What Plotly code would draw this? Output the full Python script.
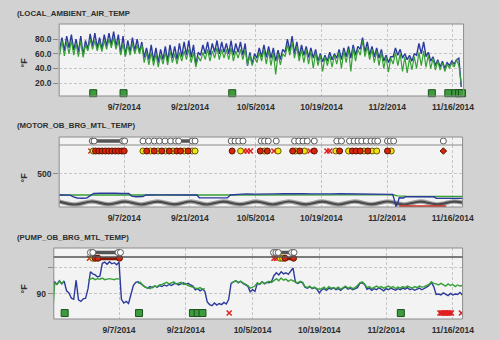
import pandas as pd
import plotly.graph_objects as go

START = pd.Timestamp("2014-08-24")


def when(days):
    return [START + pd.Timedelta(days=float(d)) for d in days]


def spans(pairs):
    xs = []
    for a, b in pairs:
        xs += [START + pd.Timedelta(days=a), START + pd.Timedelta(days=b), None]
    return xs


# ---------------- LOCAL_AMBIENT_AIR_TEMP (12 h samples: morning / evening) ----------------
ambient_blue = [
    66, 82, 64, 84, 68, 86, 65, 80, 62, 84, 58, 78, 66, 87,
    70, 88, 68, 82, 66, 86, 70, 88, 72, 90, 70, 86, 60, 84,
    58, 78, 62, 82, 64, 80, 62, 76, 55, 68, 52, 72, 50, 68,
    48, 66, 52, 70, 50, 72, 54, 70, 52, 74, 56, 76, 58, 78,
    55, 72, 45, 62, 58, 72, 60, 76, 58, 74, 62, 78, 60, 76,
    62, 74, 60, 78, 58, 74, 62, 76, 58, 74, 44, 62, 46, 60,
    54, 68, 56, 72, 55, 70, 54, 68, 50, 65, 52, 66, 62, 80,
    64, 84, 60, 76, 56, 72, 58, 70, 55, 68, 54, 66, 50, 60,
    49, 58, 50, 62, 52, 60, 54, 66, 52, 68, 56, 70, 54, 72,
    58, 70, 66, 82, 62, 76, 58, 70, 56, 68, 54, 66, 50, 58,
    48, 56, 56, 68, 58, 66, 54, 60, 52, 58, 50, 60, 58, 74,
    60, 76, 56, 62, 50, 56, 44, 52, 42, 50, 40, 48, 44, 50,
    46, 52, 54, 15,
]
ambient_green = [
    58, 78, 57, 76, 60, 78, 58, 74, 56, 78, 55, 72, 64, 80,
    66, 78, 64, 76, 63, 78, 66, 80, 68, 82, 66, 78, 58, 74,
    56, 72, 58, 74, 60, 72, 60, 72, 48, 62, 45, 62, 44, 60,
    42, 58, 46, 62, 45, 64, 48, 60, 46, 62, 50, 64, 52, 66,
    48, 62, 42, 56, 50, 62, 52, 66, 50, 64, 54, 68, 52, 66,
    54, 66, 52, 68, 50, 64, 54, 66, 52, 66, 45, 58, 44, 56,
    48, 62, 50, 66, 46, 64, 44, 62, 32, 60, 45, 60, 56, 72,
    58, 76, 54, 70, 50, 66, 48, 66, 46, 64, 40, 62, 44, 58,
    36, 56, 44, 58, 42, 58, 46, 62, 40, 64, 48, 66, 36, 68,
    50, 66, 58, 78, 56, 70, 52, 66, 48, 64, 44, 62, 40, 56,
    35, 54, 46, 62, 44, 60, 36, 56, 34, 54, 38, 56, 40, 62,
    44, 64, 42, 58, 40, 54, 38, 50, 38, 48, 36, 46, 40, 48,
    42, 52, 44, 20,
]
ambient_times = pd.date_range("2014-08-24 06:00", periods=len(ambient_blue), freq="12h")
ambient_event_days = [7.4, 13.85, 37.0, 79.5, 83.0, 84.5, 85.3, 85.9]
ambient_event_level = 6.5

# ---------------- MOTOR_OB_BRG_MTL_TEMP ----------------
motor_blue_days = [0, 2.5, 3.2, 4, 5, 6, 6.8, 7.5, 9, 10.5, 12, 13.5, 15, 15.6, 16.5, 18,
                   18.6, 21, 24, 27, 29.5, 30, 32, 34, 36, 36.6, 38, 40, 42, 44, 46, 48,
                   50, 52, 54, 56, 58, 60, 62, 64, 66, 68, 70, 71.2, 71.6, 71.9, 72.3,
                   72.6, 73.5, 74, 76, 78, 80, 80.5, 82, 84, 86.2]
motor_blue = [150, 148, 120, 100, 95, 98, 140, 175, 178, 172, 178, 175, 176, 130, 122, 125,
              150, 152, 148, 153, 150, 105, 100, 98, 102, 150, 160, 168, 165, 172, 168, 170,
              165, 172, 168, 174, 168, 172, 170, 175, 168, 170, 166, 160, 60, -48, 20,
              105, 100, 122, 120, 124, 120, 95, 92, 96, 94]
motor_green_days = [0, 5, 10, 15, 20, 25, 30, 35, 40, 45, 50, 55, 60, 65, 70, 71.5,
                    72.2, 74, 78, 82, 86.2]
motor_green = [150, 152, 151, 150, 151, 150, 150, 151, 153, 152, 152, 153, 153, 152, 152, 150,
               135, 128, 126, 124, 124]
motor_wave_days = [0.2, 3.6, 7.1, 10.6, 14.2, 17.6, 21.1, 24.7, 28.2, 31.6, 35.1, 38.7,
                   42.2, 45.6, 49.1, 52.7, 56.2, 59.6, 63.1, 66.7, 70.2, 73.6, 77.1, 80.7,
                   84.2, 86.3]
motor_wave = [40, -8, 42, -6, 40, -8, 41, -7, 42, -8, 40, -6, 41, -8, 42, -7, 40, -8,
              41, -6, 42, -8, 40, -7, 41, 20]
motor_alarm_span = [(72.6, 82.6)]
motor_event_days = ambient_event_days
motor_event_level = -68
motor_row_level = 883
motor_red_days = [7.9, 8.6, 9.3, 10.0, 10.7, 11.4, 12.1, 12.8, 13.5, 14.0, 18.8, 20.4, 22.0,
                  23.6, 25.2, 26.0, 27.6, 37.0, 43.0, 44.5, 49.9, 51.4, 54.5, 59.9, 62.6,
                  63.4, 64.3, 65.9, 70.1]
motor_yellow_days = [7.4, 18.0, 19.6, 21.2, 22.8, 24.4, 26.8, 28.5, 29.1, 38.8, 43.9, 46.8,
                     50.5, 52.4, 59.1, 61.8, 65.1, 66.8, 67.8, 70.9]
motor_cross_days = [6.9, 39.5, 40.2, 40.9, 45.9, 53.6, 57.2, 57.8]
motor_diamond_days = [82.0]
motor_red_spans = [(7.9, 14.0)]
motor_ring_days = [7.2, 7.6, 13.7, 14.1, 18.0, 19.2, 20.4, 21.5, 22.7, 23.9, 25.0, 25.6,
                   28.5, 29.1, 36.8, 37.6, 38.4, 39.3, 43.2, 43.9, 44.7, 46.4, 50.3, 51.2,
                   52.1, 53.0, 54.5, 59.3, 60.3, 62.0, 63.0, 63.8, 64.6, 65.6, 66.6, 67.4,
                   68.0, 70.1, 70.7, 71.4, 82.0]
motor_ring_spans = [(7.6, 13.7), (25.6, 28.5), (43.2, 43.9), (50.3, 51.0), (62.0, 63.0)]

# ---------------- PUMP_OB_BRG_MTL_TEMP (12 h samples) ----------------
pump_blue = [
    91.6, 92.3, 91.8, 92.5, 91.9, 92.4, 90.6, 90.2, 89.2, 89.0, 92.6, 88.9, 88.6, 89.1,
    89.2, 91.0, 94.2, 93.8, 93.6, 93.2, 93.4, 95.8, 96.0, 95.6, 96.1, 95.7, 95.9, 95.5,
    96.0, 89.0, 88.3, 88.6, 88.2, 90.2, 91.6, 92.2, 92.3, 92.0,
    91.6, 91.3, 91.1, 91.4, 91.2, 91.5, 91.3, 91.6, 91.4, 91.7, 91.5, 91.8, 91.6, 91.9,
    92.0, 91.7, 91.9, 92.1, 91.8, 92.0, 91.7, 91.5,
    90.8, 91.0, 90.6, 90.9, 90.5, 88.5, 88.0, 87.8, 88.3, 87.9, 88.2, 88.0, 88.4, 88.1,
    89.0, 92.0, 92.3, 92.5, 92.1, 92.4, 92.0, 91.8, 91.5, 90.4, 90.8, 90.5,
    92.0, 91.8, 92.3, 91.9, 92.2, 92.1, 92.4, 93.5, 94.0, 93.6, 94.2, 93.8, 94.0, 93.7,
    94.3, 94.9, 92.2, 92.0, 92.3, 92.1, 91.3, 91.1, 91.4, 91.0, 91.2, 90.9, 90.2,
    90.8, 91.0, 90.7, 91.1, 90.9, 91.2, 90.8, 91.0, 90.7, 91.1, 91.3, 90.9, 91.1, 90.8,
    91.0, 91.2, 92.0, 92.1, 91.8,
    90.9, 91.1, 90.7, 91.0, 90.8, 91.2, 90.9, 90.6, 91.0, 90.8, 91.1, 90.9, 90.7, 91.0,
    90.8, 91.1, 90.9, 91.2, 90.8, 91.0, 90.7, 90.9, 91.1, 90.8, 91.0, 91.3, 91.6,
    92.2, 91.4, 89.9, 90.0, 89.8, 90.2, 89.9, 89.7, 90.1, 89.8, 90.0, 89.9, 90.3, 89.8,
]
N = None
pump_green = [
    85.0, 92.0, 91.8, 92.4, 92.0, 92.5, N, N, N, N, N, N, N, N, N,
    92.6, 92.8, 93.0, 92.7, 92.9, 92.8, 93.0, 92.7, 92.8, 92.9, 92.8, 92.7, 92.9, 92.8,
    N, N, N, N, N, N, N,
    92.0, 92.2, 91.6, 91.3, 91.2, 91.0, 91.3, 91.5, 91.4, 91.7, 91.8, 92.0, 92.2, 91.9,
    92.1, 92.3, 91.9, 92.0, 92.2, 91.8, 91.9, 91.6, 91.4, 91.2,
    91.1, 91.0, 91.2, 90.9, 91.0, N, N, N, N, N, N, N, N, N, N,
    92.0, 92.3, 92.5, 92.2, 92.4, 92.1, 91.9, 91.6, 91.1, 91.3, 91.5,
    92.1, 91.9, 92.3, 92.0, 92.2, 92.4, 92.2, 92.6, 92.9, 92.5, 93.0, 92.6, 92.8, 92.4,
    92.7, 92.5, 92.3, 92.1, 92.4, 92.2, 91.4, 91.2, 91.5, 91.1, 91.3, 91.0, 90.9,
    91.0, 91.3, 90.9, 91.4, 91.1, 91.2, 91.0, 91.3, 90.9, 91.2, 91.5, 91.1, 91.3, 91.0,
    91.2, 91.6, 92.1, 92.3, 91.9,
    91.2, 91.4, 91.0, 91.3, 91.5, 91.2, 91.4, 91.1, 91.3, 91.5, 91.2, 91.4, 91.0, 91.3,
    91.1, 91.4, 91.2, 91.5, 91.3, 91.1, 91.4, 91.2, 91.5, 91.3, 91.4, 91.6, 91.8,
    92.3, 92.0, 91.9, 91.7, 92.0, 91.8, 91.5, 91.9, 91.6, 91.8, 91.4, 91.7, 91.5, 91.6,
]
pump_times = pd.date_range("2014-08-24 00:00", periods=len(pump_blue), freq="12h")
pump_event_days = [2.6, 18.2, 29.5, 30.5, 31.5, 73.1]
pump_event_level = 86.4
pump_alarm_days = [37.1, 81.3, 81.6, 81.9, 82.2, 82.5, 82.8, 83.1, 83.4, 83.7, 85.8]
pump_row_level = 96.75
pump_cross_days = [7.8, 46.5, 47.0]
pump_yellow_days = [8.5, 47.8, 48.3]
pump_red_days = [9.0, 9.6, 14.1, 48.8, 50.6]
pump_red_spans = [(9.3, 14.1), (48.8, 50.6)]
pump_ring_days = [8.0, 8.5, 13.8, 14.3, 46.4, 46.9, 47.4, 50.2, 50.7]
pump_ring_spans = [(8.5, 13.8), (47.4, 50.2)]

tick_dates = ["2014-09-07", "2014-09-21", "2014-10-05", "2014-10-19", "2014-11-02", "2014-11-16"]
tick_labels = ["9/7/2014", "9/21/2014", "10/5/2014", "10/19/2014", "11/2/2014", "11/16/2014"]
titles = ["(LOCAL_AMBIENT_AIR_TEMP", "(MOTOR_OB_BRG_MTL_TEMP)", "(PUMP_OB_BRG_MTL_TEMP)"]
unit = "°F"

# ---------------- styling ----------------
W, H = 500, 340
BLUE = "#2b3a9c"
GREEN = "#36a036"
FONT = "Liberation Sans, Arial, sans-serif"
TXT = "#2e2e2e"


def px_x(p):
    return p / W


def px_y(p):
    return 1 - p / H


square = dict(symbol="square", size=7, color="#3c9c3c", line=dict(color="#1f4f1f", width=1))
ring = dict(symbol="circle", size=6, color="white", line=dict(color="#5a5a5a", width=1))
red_dot = dict(symbol="circle", size=6, color="#d8260c", line=dict(color="#5a1500", width=1))
yellow_dot = dict(symbol="circle", size=6, color="#f2e414", line=dict(color="#6a5a00", width=1))
red_cross = dict(symbol="x-thin", size=5, color="#e02020", line=dict(color="#e02020", width=1.5))
red_diamond = dict(symbol="diamond", size=5, color="#d8260c", line=dict(color="#5a1500", width=1))

fig = go.Figure()


def add(x, y, xa, ya, **kw):
    fig.add_trace(go.Scatter(x=x, y=y, xaxis=xa, yaxis=ya, hoverinfo="skip", **kw))


# panel 1
add(ambient_times, ambient_blue, "x", "y", mode="lines", line=dict(color=BLUE, width=1.4))
add(ambient_times, ambient_green, "x", "y", mode="lines", line=dict(color=GREEN, width=1.2))
add(when(ambient_event_days), [ambient_event_level] * len(ambient_event_days), "x", "y",
    mode="markers", marker=square, cliponaxis=False)

# panel 2
add(when(motor_wave_days), motor_wave, "x2", "y2", mode="lines",
    line=dict(color="#a4a4a4", width=4.5, shape="spline", smoothing=1.0))
add(when(motor_wave_days), motor_wave, "x2", "y2", mode="lines",
    line=dict(color="#4a4a4a", width=2.2, shape="spline", smoothing=1.0))
add(when(motor_green_days), motor_green, "x2", "y2", mode="lines", line=dict(color=GREEN, width=1.4))
add(when(motor_blue_days), motor_blue, "x2", "y2", mode="lines", line=dict(color=BLUE, width=1.4))
add(spans(motor_alarm_span), [-45, -45, None], "x2", "y2", mode="lines",
    line=dict(color="#e02a20", width=3))
add(when(motor_event_days), [motor_event_level] * len(motor_event_days), "x2", "y2",
    mode="markers", marker=square, cliponaxis=False)
add(spans(motor_red_spans), [motor_row_level, motor_row_level, None] * len(motor_red_spans),
    "x2", "y2", mode="lines", line=dict(color="#8a1a08", width=4))
add(when(motor_cross_days), [motor_row_level] * len(motor_cross_days), "x2", "y2",
    mode="markers", marker=red_cross)
add(when(motor_yellow_days), [motor_row_level] * len(motor_yellow_days), "x2", "y2",
    mode="markers", marker=yellow_dot)
add(when(motor_red_days), [motor_row_level] * len(motor_red_days), "x2", "y2",
    mode="markers", marker=red_dot)
add(when(motor_diamond_days), [motor_row_level] * len(motor_diamond_days), "x2", "y2",
    mode="markers", marker=red_diamond)
add(spans(motor_ring_spans), [0.5, 0.5, None] * len(motor_ring_spans), "x2", "y3",
    mode="lines", line=dict(color="#555555", width=3.5))
add(when(motor_ring_days), [0.5] * len(motor_ring_days), "x2", "y3", mode="markers", marker=ring)

# panel 3
add(pump_times, pump_blue, "x3", "y4", mode="lines", line=dict(color=BLUE, width=1.4))
add(pump_times, pump_green, "x3", "y4", mode="lines", line=dict(color=GREEN, width=1.4))
add(when(pump_event_days), [pump_event_level] * len(pump_event_days), "x3", "y4",
    mode="markers", marker=square, cliponaxis=False)
add(when(pump_alarm_days), [pump_event_level] * len(pump_alarm_days), "x3", "y4",
    mode="markers", marker=red_cross)
add(spans(pump_red_spans), [pump_row_level, pump_row_level, None] * len(pump_red_spans),
    "x3", "y4", mode="lines", line=dict(color="#8a1a08", width=4))
add(when(pump_cross_days), [pump_row_level] * len(pump_cross_days), "x3", "y4",
    mode="markers", marker=red_cross, cliponaxis=False)
add(when(pump_yellow_days), [pump_row_level] * len(pump_yellow_days), "x3", "y4",
    mode="markers", marker=yellow_dot, cliponaxis=False)
add(when(pump_red_days), [pump_row_level] * len(pump_red_days), "x3", "y4",
    mode="markers", marker=red_dot, cliponaxis=False)
add(spans(pump_ring_spans), [0.5, 0.5, None] * len(pump_ring_spans), "x3", "y5",
    mode="lines", line=dict(color="#555555", width=3.5))
add(when(pump_ring_days), [0.5] * len(pump_ring_days), "x3", "y5", mode="markers", marker=ring)

# ---------------- axes ----------------
tickfont = dict(family=FONT, size=8.5, color=TXT, weight="bold")


def xax(left, right, anchor, d0, d1):
    return dict(domain=[px_x(left), px_x(right)], anchor=anchor, type="date",
                range=[START + pd.Timedelta(days=d0), START + pd.Timedelta(days=d1)],
                tickvals=tick_dates, ticktext=tick_labels, tickfont=tickfont,
                showgrid=True, gridcolor="#c6c6c6", griddash="3px,2px", gridwidth=1,
                zeroline=False, showline=False, ticks="outside", ticklen=3,
                tickcolor="rgba(0,0,0,0)", fixedrange=True)


def yax(top, bottom, anchor, rng, vals=None, text=None):
    d = dict(domain=[px_y(bottom), px_y(top)], anchor=anchor, range=rng, zeroline=False,
             showline=False, fixedrange=True)
    if vals is None:
        d.update(showgrid=False, showticklabels=False, ticks="")
    else:
        d.update(tickvals=vals, ticktext=text, tickfont=tickfont, showgrid=True,
                 gridcolor="#c6c6c6", griddash="3px,2px", ticks="outside", ticklen=5,
                 tickcolor="#8a8a8a")
    return d


fig.update_layout(
    width=W, height=H, margin=dict(l=0, r=0, t=0, b=0),
    paper_bgcolor="#d2d2d2", plot_bgcolor="#f3f3f3", showlegend=False,
    font=dict(family=FONT, color=TXT),
    xaxis=xax(60.5, 474, "y", 0.15, 86.25),
    yaxis=yax(24, 96, "x", [2.7, 100.4], [20, 40, 60, 80], ["20.0", "40.0", "60.0", "80.0"]),
    xaxis2=xax(60.5, 473, "y2", 0.15, 86.1),
    yaxis2=yax(145, 207, "x2", [-50, 983], [500], ["500"]),
    yaxis3=yax(137, 145, "x2", [0, 1]),
    xaxis3=xax(55, 473, "y4", 0.32, 86.05),
    yaxis4=yax(257, 319, "x3", [85.28, 96.98], [90, 95], ["90", ""]),
    yaxis5=yax(248, 257, "x3", [0, 1]),
)

# panel frames and strip separators
frames = [(60.5, 474, 24, 96), (60.5, 473, 137, 207), (55, 473, 248, 319)]
for l, r, t, b in frames:
    fig.add_shape(type="rect", xref="paper", yref="paper", x0=px_x(l), x1=px_x(r),
                  y0=px_y(b), y1=px_y(t), line=dict(color="#8c8c8c", width=1))
for l, r, yy, c, w in [(60.5, 473, 145, "#8c8c8c", 1), (55, 473, 257, "#555555", 1.5)]:
    fig.add_shape(type="line", xref="paper", yref="paper", x0=px_x(l), x1=px_x(r),
                  y0=px_y(yy), y1=px_y(yy), line=dict(color=c, width=w))

# panel titles and unit labels
for text, ty in zip(titles, [14, 125, 237]):
    fig.add_annotation(text=text, xref="paper", yref="paper", x=px_x(15), y=px_y(ty),
                       xanchor="left", yanchor="middle", showarrow=False,
                       font=dict(family=FONT, size=7.8, color=TXT, weight="bold"))
for uy in [62, 177, 288]:
    fig.add_annotation(text=unit, xref="paper", yref="paper", x=px_x(25), y=px_y(uy),
                       xanchor="center", yanchor="middle", showarrow=False, textangle=-90,
                       font=dict(family=FONT, size=9, color=TXT, weight="bold"))

fig.write_html("out.html")
